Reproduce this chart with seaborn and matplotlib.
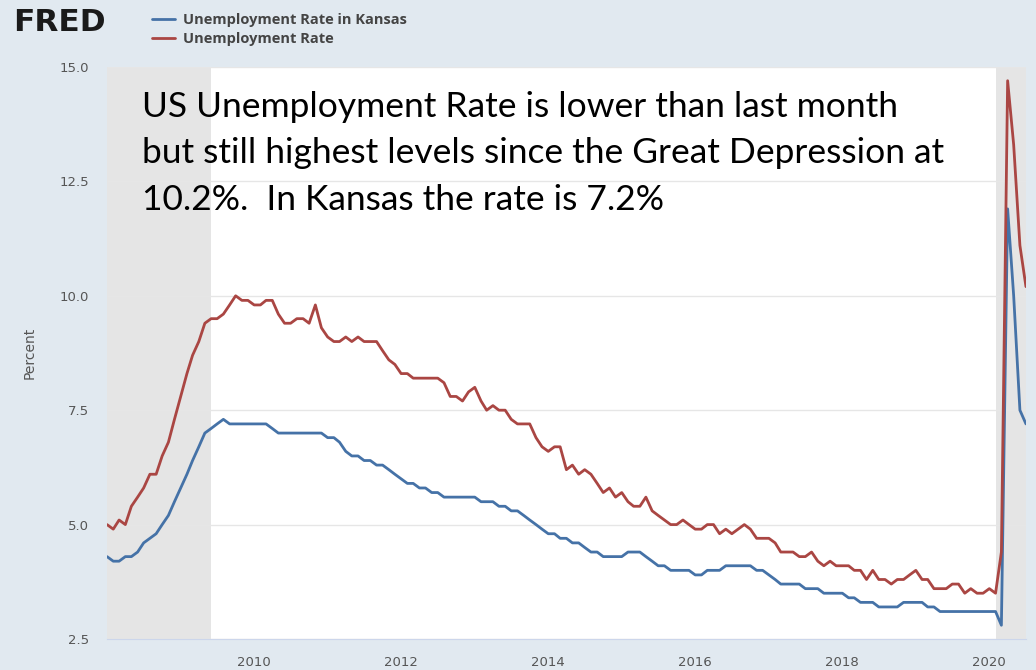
import pandas as pd
import matplotlib
matplotlib.use('Agg')
import matplotlib.pyplot as plt
import matplotlib.dates as mdates
from matplotlib.lines import Line2D
from matplotlib.ticker import FormatStrFormatter
import seaborn as sns

# Monthly data, Jan 2008 - Jul 2020
start_month = '2008-01-01'

kansas_rate = [
    4.3, 4.2, 4.2, 4.3, 4.3, 4.4, 4.6, 4.7, 4.8, 5.0, 5.2, 5.5,   # 2008
    5.8, 6.1, 6.4, 6.7, 7.0, 7.1, 7.2, 7.3, 7.2, 7.2, 7.2, 7.2,   # 2009
    7.2, 7.2, 7.2, 7.1, 7.0, 7.0, 7.0, 7.0, 7.0, 7.0, 7.0, 7.0,   # 2010
    6.9, 6.9, 6.8, 6.6, 6.5, 6.5, 6.4, 6.4, 6.3, 6.3, 6.2, 6.1,   # 2011
    6.0, 5.9, 5.9, 5.8, 5.8, 5.7, 5.7, 5.6, 5.6, 5.6, 5.6, 5.6,   # 2012
    5.6, 5.5, 5.5, 5.5, 5.4, 5.4, 5.3, 5.3, 5.2, 5.1, 5.0, 4.9,   # 2013
    4.8, 4.8, 4.7, 4.7, 4.6, 4.6, 4.5, 4.4, 4.4, 4.3, 4.3, 4.3,   # 2014
    4.3, 4.4, 4.4, 4.4, 4.3, 4.2, 4.1, 4.1, 4.0, 4.0, 4.0, 4.0,   # 2015
    3.9, 3.9, 4.0, 4.0, 4.0, 4.1, 4.1, 4.1, 4.1, 4.1, 4.0, 4.0,   # 2016
    3.9, 3.8, 3.7, 3.7, 3.7, 3.7, 3.6, 3.6, 3.6, 3.5, 3.5, 3.5,   # 2017
    3.5, 3.4, 3.4, 3.3, 3.3, 3.3, 3.2, 3.2, 3.2, 3.2, 3.3, 3.3,   # 2018
    3.3, 3.3, 3.2, 3.2, 3.1, 3.1, 3.1, 3.1, 3.1, 3.1, 3.1, 3.1,   # 2019
    3.1, 3.1, 2.8, 11.9, 10.0, 7.5, 7.2,                          # 2020
]

us_rate = [
    5.0, 4.9, 5.1, 5.0, 5.4, 5.6, 5.8, 6.1, 6.1, 6.5, 6.8, 7.3,   # 2008
    7.8, 8.3, 8.7, 9.0, 9.4, 9.5, 9.5, 9.6, 9.8, 10.0, 9.9, 9.9,  # 2009
    9.8, 9.8, 9.9, 9.9, 9.6, 9.4, 9.4, 9.5, 9.5, 9.4, 9.8, 9.3,   # 2010
    9.1, 9.0, 9.0, 9.1, 9.0, 9.1, 9.0, 9.0, 9.0, 8.8, 8.6, 8.5,   # 2011
    8.3, 8.3, 8.2, 8.2, 8.2, 8.2, 8.2, 8.1, 7.8, 7.8, 7.7, 7.9,   # 2012
    8.0, 7.7, 7.5, 7.6, 7.5, 7.5, 7.3, 7.2, 7.2, 7.2, 6.9, 6.7,   # 2013
    6.6, 6.7, 6.7, 6.2, 6.3, 6.1, 6.2, 6.1, 5.9, 5.7, 5.8, 5.6,   # 2014
    5.7, 5.5, 5.4, 5.4, 5.6, 5.3, 5.2, 5.1, 5.0, 5.0, 5.1, 5.0,   # 2015
    4.9, 4.9, 5.0, 5.0, 4.8, 4.9, 4.8, 4.9, 5.0, 4.9, 4.7, 4.7,   # 2016
    4.7, 4.6, 4.4, 4.4, 4.4, 4.3, 4.3, 4.4, 4.2, 4.1, 4.2, 4.1,   # 2017
    4.1, 4.1, 4.0, 4.0, 3.8, 4.0, 3.8, 3.8, 3.7, 3.8, 3.8, 3.9,   # 2018
    4.0, 3.8, 3.8, 3.6, 3.6, 3.6, 3.7, 3.7, 3.5, 3.6, 3.5, 3.5,   # 2019
    3.6, 3.5, 4.4, 14.7, 13.3, 11.1, 10.2,                        # 2020
]

series_names = ['Unemployment Rate in Kansas', 'Unemployment Rate']
series_colors = ['#4572a7', '#aa4643']

recessions = [('2007-12-01', '2009-06-01'), ('2020-02-01', '2020-07-01')]

y_ticks = [2.5, 5.0, 7.5, 10.0, 12.5, 15.0]
x_tick_years = [2010, 2012, 2014, 2016, 2018, 2020]

note_text = ('US Unemployment Rate is lower than last month\n'
             'but still highest levels since the Great Depression at\n'
             '10.2%.  In Kansas the rate is 7.2%')

# Build long-form table
dates = pd.date_range(start_month, periods=len(us_rate), freq='MS')
df = pd.DataFrame({
    'DATE': list(dates) * 2,
    'value': kansas_rate + us_rate,
    'series': [series_names[0]] * len(dates) + [series_names[1]] * len(dates),
})

sns.set_style('white')
plt.rcParams['font.family'] = ['DejaVu Sans']

bg = '#e1e9f0'
fig = plt.figure(figsize=(10.36, 6.70), dpi=100, facecolor=bg)
ax = fig.add_axes([0.1033, 0.0463, 0.887, 0.8537])
ax.set_facecolor('white')

# Recession shading
for r_start, r_end in recessions:
    ax.axvspan(pd.Timestamp(r_start), pd.Timestamp(r_end), color='#e5e5e5', lw=0, zorder=0.5)

sns.lineplot(data=df, x='DATE', y='value', hue='series', palette=series_colors,
             hue_order=series_names, linewidth=2, legend=False, ax=ax, zorder=3)

ax.set_xlim(dates[0], dates[-1])
ax.set_ylim(2.5, 15.0)
ax.set_yticks(y_ticks)
ax.yaxis.set_major_formatter(FormatStrFormatter('%.1f'))
ax.set_xticks([pd.Timestamp(f'{y}-01-01') for y in x_tick_years])
ax.xaxis.set_major_formatter(mdates.DateFormatter('%Y'))
ax.grid(axis='y', color='#e6e6e6', lw=1, zorder=1)
ax.set_axisbelow(False)
for side in ['top', 'right', 'left']:
    ax.spines[side].set_visible(False)
ax.spines['bottom'].set_color('#ccd6eb')
ax.tick_params(axis='x', colors='#ccd6eb', length=8, width=1, direction='out',
               labelcolor='#555555', labelsize=9.5, pad=4)
ax.tick_params(axis='y', length=0, labelcolor='#555555', labelsize=9.5, pad=13)
ax.set_xlabel('')
ax.set_ylabel('Percent', color='#555555', fontsize=10, labelpad=16)

# Annotation
ax.text(0.038, 0.958, note_text, transform=ax.transAxes, fontsize=25.5,
        family=['Lato', 'DejaVu Sans'], color='black', va='top', ha='left',
        linespacing=1.55, zorder=5)

# Header: FRED mark and legend
fig.text(0.013, 0.966, 'FRED', fontsize=22.5, fontweight='heavy', color='#1a1a1a',
         va='center', ha='left', family=['DejaVu Sans'])
handles = [Line2D([0], [0], color=c, lw=2) for c in series_colors]
leg = fig.legend(handles, series_names, loc='upper left', bbox_to_anchor=(0.134, 1.0),
                 frameon=False, handlelength=1.6, handletextpad=0.5, labelspacing=0.35,
                 prop={'family': 'Open Sans', 'weight': 'bold', 'size': 10.5})
for t in leg.get_texts():
    t.set_color('#444444')

fig.savefig('out.png', dpi=100, facecolor=bg)
